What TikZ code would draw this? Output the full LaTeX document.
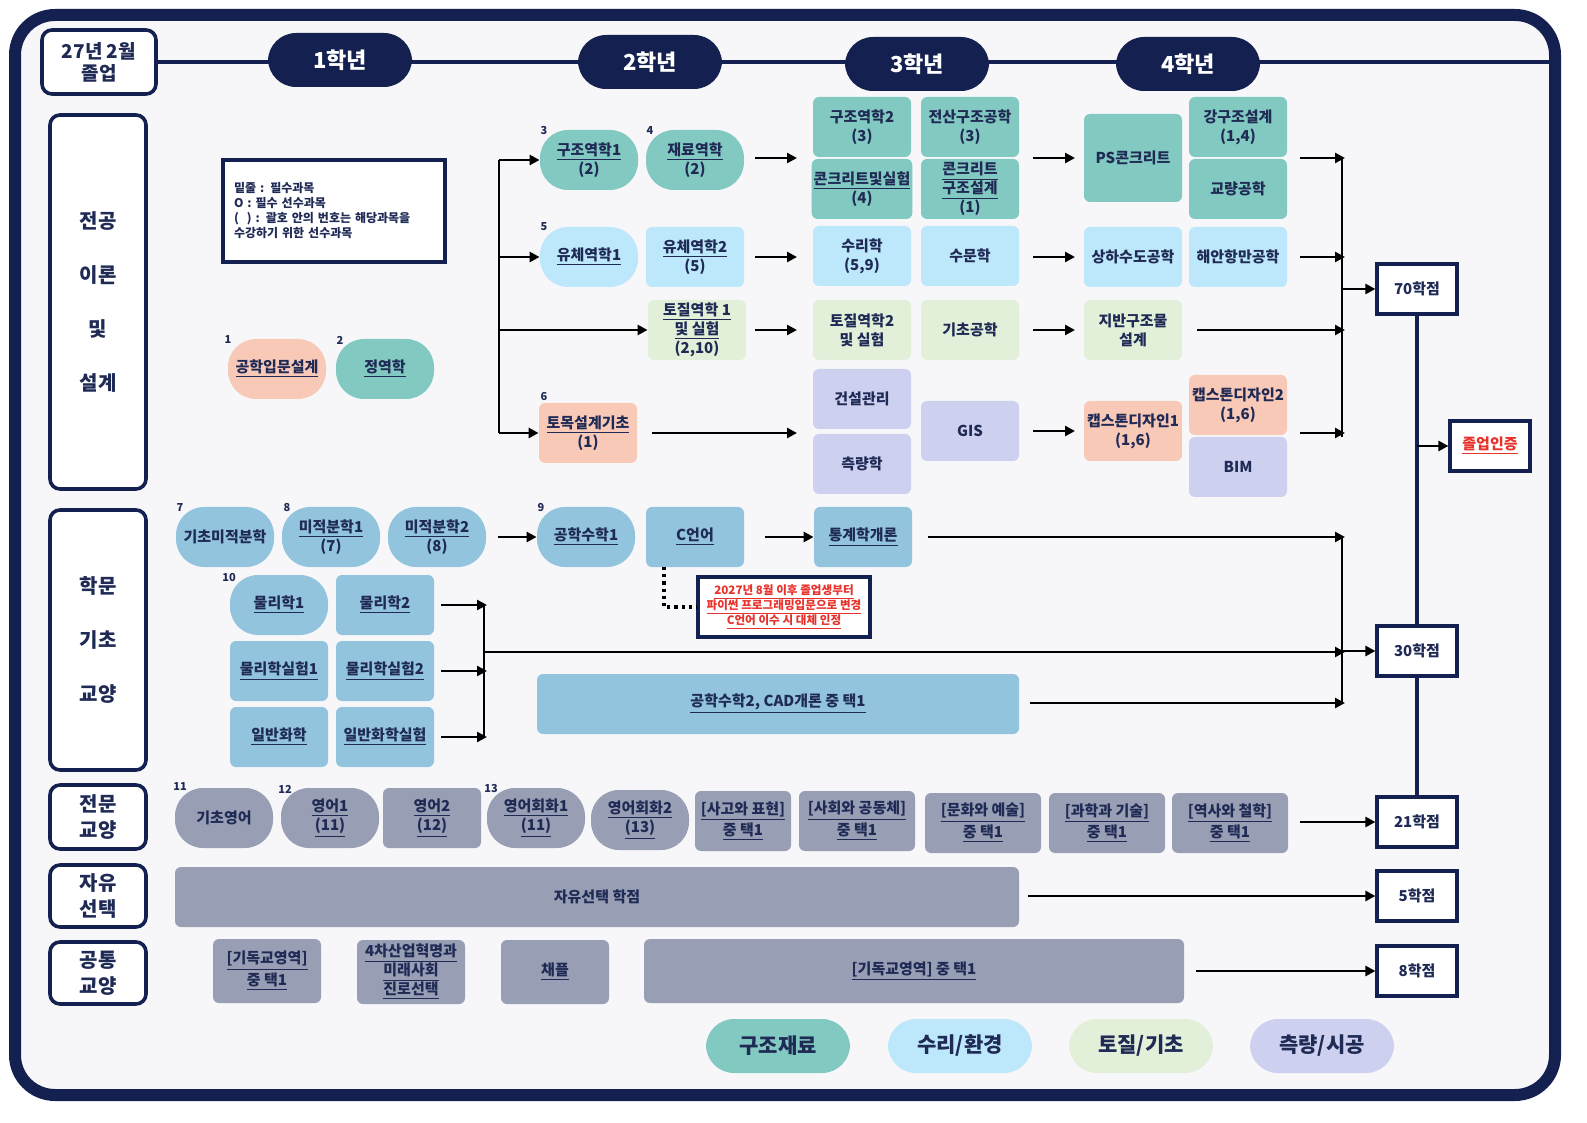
\documentclass[tikz,border=0pt]{standalone}
\usepackage{fontspec}
\setmainfont{Noto Sans CJK KR}
\usetikzlibrary{arrows.meta}
\definecolor{navy}{HTML}{14204F}
\definecolor{txt}{HTML}{1F2A55}
\definecolor{bgc}{HTML}{F7F7F9}
\definecolor{teal}{HTML}{82C9C1}
\definecolor{lb}{HTML}{BDE7FA}
\definecolor{gr}{HTML}{E2F0D9}
\definecolor{lav}{HTML}{CDD0EE}
\definecolor{sal}{HTML}{F9C9B8}
\definecolor{sb}{HTML}{92C4DE}
\definecolor{gy}{HTML}{989FB4}
\definecolor{rd}{HTML}{E8312A}
\newcommand\undl[1]{\underline{#1}}
\tikzset{
 b/.style={rectangle,rounded corners=3pt,minimum width=49pt,minimum height=30pt,inner sep=1pt,align=center,text=txt,font=\fontsize{7.5}{9.5}\selectfont\bfseries},
 p/.style={b,rounded corners=14pt},
 cat/.style={draw=navy,line width=1.8pt,fill=white,rounded corners=5pt,align=center,text=txt,font=\fontsize{10}{13}\selectfont\bfseries},
 yr/.style={fill=navy,rounded corners=14pt,minimum width=72pt,minimum height=27pt,text=white,font=\fontsize{11}{13}\selectfont\bfseries},
 cr/.style={draw=navy,line width=1.6pt,fill=white,minimum width=40pt,minimum height=25pt,text=txt,font=\fontsize{7.5}{9}\selectfont\bfseries},
 num/.style={font=\fontsize{5.5}{6}\selectfont\bfseries,text=txt,inner sep=0pt},
 ar/.style={-{Triangle[length=5pt,width=5pt]},line width=1.3pt,black},
 ln/.style={line width=1.3pt,black},
 lg/.style={rounded corners=14pt,minimum width=72pt,minimum height=27pt,text=txt,font=\fontsize{10.5}{12}\selectfont\bfseries}
}
\begin{document}
\begin{tikzpicture}[x=0.5pt,y=-0.5pt]
\useasboundingbox (0,0) rectangle (1587,1123);
\fill[white] (0,0) rectangle (1587,1123);
\draw[navy,line width=6pt,fill=bgc,rounded corners=20pt] (15,15) rectangle (1555,1095);
\draw[navy,line width=2pt] (157,62) -- (1552,62);
% header
\node[cat,minimum width=57pt,minimum height=32pt,font=\fontsize{9.5}{11}\selectfont\bfseries] (grad) at (99,62) {27년 2월\\졸업};
\node[yr] (y1) at (340,60) {1학년};
\node[yr] (y2) at (650,62) {2학년};
\node[yr] (y3) at (917,64) {3학년};
\node[yr] (y4) at (1188,64) {4학년};
% categories
\node[cat,minimum width=48pt,minimum height=187pt] (k1) at (98,302) {전공\\[14pt]이론\\[14pt]및\\[14pt]설계};
\node[cat,minimum width=48pt,minimum height=130pt] (k2) at (98,640) {학문\\[14pt]기초\\[14pt]교양};
\node[cat,minimum width=48pt,minimum height=32pt] (k3) at (98,817) {전문\\교양};
\node[cat,minimum width=48pt,minimum height=31pt] (k4) at (98,896) {자유\\선택};
\node[cat,minimum width=48pt,minimum height=31pt] (k5) at (98,973) {공통\\교양};
% legend
\node[draw=navy,line width=1.6pt,fill=white,minimum width=111pt,minimum height=51pt,align=left,text=txt,font=\fontsize{6}{7.5}\selectfont\bfseries,text width=100pt] (leg) at (334,211) {밑줄 : 필수과목\\O : 필수 선수과목\\(\ \ ) : 괄호 안의 번호는 해당과목을\\수강하기 위한 선수과목};
% year1 major
\node[p,fill=sal] (c1) at (277,369) {\undl{공학입문설계}}; \node[num] at (228,340) {1};
\node[p,fill=teal] (c2) at (385,369) {\undl{정역학}}; \node[num] at (340,340) {2};
% year2
\node[p,fill=teal] (c3) at (589,160) {\undl{구조역학1}\\(2)}; \node[num] at (544,131) {3};
\node[p,fill=teal] (c4) at (695,160) {\undl{재료역학}\\(2)}; \node[num] at (650,131) {4};
\node[p,fill=lb] (c5) at (589,257) {\undl{유체역학1}}; \node[num] at (544,227) {5};
\node[b,fill=lb] (c5b) at (695,257) {\undl{유체역학2}\\(5)};
\node[b,fill=gr] (c10) at (697,330) {\undl{토질역학 1}\\\undl{및 실험}\\(2,10)};
\node[b,fill=sal] (c6) at (588,433) {\undl{토목설계기초}\\(1)}; \node[num] at (544,397) {6};
% year3
\node[b,fill=teal] (d1) at (862,127) {구조역학2\\(3)};
\node[b,fill=teal] (d2) at (862,189) {\undl{콘크리트및실험}\\(4)};
\node[b,fill=teal] (d3) at (970,127) {전산구조공학\\(3)};
\node[b,fill=teal] (d4) at (970,189) {\undl{콘크리트}\\\undl{구조설계}\\(1)};
\node[b,fill=lb] (d5) at (862,256) {수리학\\(5,9)};
\node[b,fill=lb] (d6) at (970,256) {수문학};
\node[b,fill=gr] (d7) at (862,330) {토질역학2\\및 실험};
\node[b,fill=gr] (d8) at (970,330) {기초공학};
\node[b,fill=lav] (d9) at (862,399) {건설관리};
\node[b,fill=lav] (d10) at (862,464) {측량학};
\node[b,fill=lav] (d11) at (970,431) {GIS};
% year4
\node[b,fill=teal,minimum height=44pt] (e1) at (1133,158) {PS콘크리트};
\node[b,fill=teal] (e2) at (1238,127) {강구조설계\\(1,4)};
\node[b,fill=teal] (e3) at (1238,189) {교량공학};
\node[b,fill=lb] (e4) at (1133,257) {상하수도공학};
\node[b,fill=lb] (e5) at (1238,257) {해안항만공학};
\node[b,fill=gr] (e6) at (1133,330) {지반구조물\\설계};
\node[b,fill=sal] (e7) at (1133,431) {캡스톤디자인1\\(1,6)};
\node[b,fill=sal] (e8) at (1238,405) {캡스톤디자인2\\(1,6)};
\node[b,fill=lav] (e9) at (1238,467) {BIM};
% credit boxes
\node[cr] (t70) at (1417,289) {70학점};
\node[cr,text=rd] (tg) at (1490,446) {\undl{졸업인증}};
\node[cr] (t30) at (1417,651) {30학점};
\node[cr] (t21) at (1417,822) {21학점};
\node[cr] (t5) at (1417,896) {5학점};
\node[cr] (t8) at (1417,971) {8학점};
\draw[navy,line width=1.6pt] (t70.south) -- (t30.north);
\draw[navy,line width=1.6pt] (t30.south) -- (t21.north);
\coordinate (gj) at (1417,446);
\draw[ar] (gj) -- (tg.west);
% left bracket 2nd year
\coordinate (lb1) at (499,160); \coordinate (lb4) at (499,433);
\draw[ln] (lb1) -- (lb4);
\draw[ar] (lb1) -- (c3.west);
\draw[ar] (499,257) -- (c5.west);
\draw[ar] (499,330) -- (c10.west);
\draw[ar] (lb4) -- (c6.west);
% mid arrows
\draw[ar] (755,158) -- (797,158);
\draw[ar] (755,257) -- (797,257);
\draw[ar] (755,330) -- (797,330);
\draw[ar] (652,433) -- (797,433);
\draw[ar] (1033,158) -- (1075,158);
\draw[ar] (1033,257) -- (1075,257);
\draw[ar] (1033,330) -- (1075,330);
\draw[ar] (1033,431) -- (1075,431);
% right bracket
\draw[ln] (1342,158) -- (1342,437);
\draw[ar] (1300,158) -- (1345,158);
\draw[ar] (1300,257) -- (1345,257);
\draw[ar] (1197,330) -- (1345,330);
\draw[ar] (1300,433) -- (1345,433);
\draw[ar] (1342,289) -- (t70.west);
% basic science
\node[p,fill=sb] (f1) at (225,537) {기초미적분학}; \node[num] at (180,508) {7};
\node[p,fill=sb] (f2) at (331,537) {\undl{미적분학1}\\(7)}; \node[num] at (287,508) {8};
\node[p,fill=sb] (f3) at (437,537) {\undl{미적분학2}\\(8)};
\node[p,fill=sb] (f4) at (586,537) {\undl{공학수학1}}; \node[num] at (541,508) {9};
\node[b,fill=sb] (f5) at (695,537) {\undl{C언어}};
\node[b,fill=sb] (f6) at (863,537) {\undl{통계학개론}};
\draw[ar] (f3.east) ++(12,0) -- (f4.west);
\draw[ar] (765,537) -- (f6.west);
\node[p,fill=sb] (g1) at (279,605) {\undl{물리학1}}; \node[num] at (229,578) {10};
\node[b,fill=sb] (g2) at (385,605) {\undl{물리학2}};
\node[b,fill=sb] (g3) at (279,671) {\undl{물리학실험1}};
\node[b,fill=sb] (g4) at (385,671) {\undl{물리학실험2}};
\node[b,fill=sb] (g5) at (279,737) {\undl{일반화학}};
\node[b,fill=sb] (g6) at (385,737) {\undl{일반화학실험}};
\node[b,fill=sb,minimum width=241pt] (g7) at (778,704) {\undl{공학수학2, CAD개론 중 택1}};
\node[draw=navy,line width=1.6pt,fill=white,minimum width=86pt,minimum height=30pt,align=center,text=rd,font=\fontsize{5.8}{7.5}\selectfont\bfseries] (note) at (784,607) {\undl{2027년 8월 이후 졸업생부터}\\\undl{파이썬 프로그래밍입문으로 변경}\\\undl{C언어 이수 시 대체 인정}};
\coordinate (dk) at (664,607);
\draw[line width=1.6pt,dotted] (664,567) -- (dk) -- (note.west);
\draw[ln] (484,605) -- (484,737);
\draw[ar] (441,605) -- (487,605);
\draw[ar] (441,671) -- (487,671);
\draw[ar] (441,737) -- (487,737);
\draw[ln] (1342,537) -- (1342,703);
\draw[ar] (928,537) -- (1345,537);
\draw[ar] (484,652) -- (1345,652);
\draw[ar] (1030,703) -- (1345,703);
\draw[ar] (1342,651) -- (t30.west);
% general ed
\node[p,fill=gy] (h1) at (224,818) {기초영어}; \node[num] at (180,787) {11};
\node[p,fill=gy] (h2) at (330,818) {\undl{영어1}\\\undl{(11)}}; \node[num] at (285,789) {12};
\node[b,fill=gy] (h3) at (432,818) {\undl{영어2}\\\undl{(12)}};
\node[p,fill=gy] (h4) at (536,818) {\undl{영어회화1}\\\undl{(11)}}; \node[num] at (491,789) {13};
\node[p,fill=gy] (h5) at (640,820) {\undl{영어회화2}\\\undl{(13)}};
\node[b,fill=gy,minimum width=48pt] (h6) at (743,821) {\undl{[사고와 표현]}\\\undl{중 택1}};
\node[b,fill=gy,minimum width=58pt] (h7) at (857,821) {\undl{[사회와 공동체]}\\\undl{중 택1}};
\node[b,fill=gy,minimum width=58pt] (h8) at (983,823) {\undl{[문화와 예술]}\\\undl{중 택1}};
\node[b,fill=gy,minimum width=58pt] (h9) at (1107,823) {\undl{[과학과 기술]}\\\undl{중 택1}};
\node[b,fill=gy,minimum width=58pt] (h10) at (1230,823) {\undl{[역사와 철학]}\\\undl{중 택1}};
\draw[ar] (1300,822) -- (t21.west);
\node[b,fill=gy,minimum width=422pt] (j1) at (597,897) {자유선택 학점};
\draw[ar] (1028,896) -- (t5.west);
\node[b,fill=gy,minimum width=54pt,minimum height=32pt] (m1) at (267,971) {\undl{[기독교영역]}\\\undl{중 택1}};
\node[b,fill=gy,minimum width=54pt,minimum height=32pt] (m2) at (411,972) {\undl{4차산업혁명과}\\\undl{미래사회}\\\undl{진로선택}};
\node[b,fill=gy,minimum width=54pt,minimum height=32pt] (m3) at (555,972) {\undl{채플}};
\node[b,fill=gy,minimum width=270pt,minimum height=32pt] (m4) at (914,971) {\undl{[기독교영역] 중 택1}};
\draw[ar] (1196,971) -- (t8.west);
% bottom legend
\node[lg,fill=teal] (l1) at (778,1046) {구조재료};
\node[lg,fill=lb] (l2) at (960,1046) {수리/환경};
\node[lg,fill=gr] (l3) at (1141,1046) {토질/기초};
\node[lg,fill=lav] (l4) at (1322,1046) {측량/시공};
\end{tikzpicture}
\end{document}
